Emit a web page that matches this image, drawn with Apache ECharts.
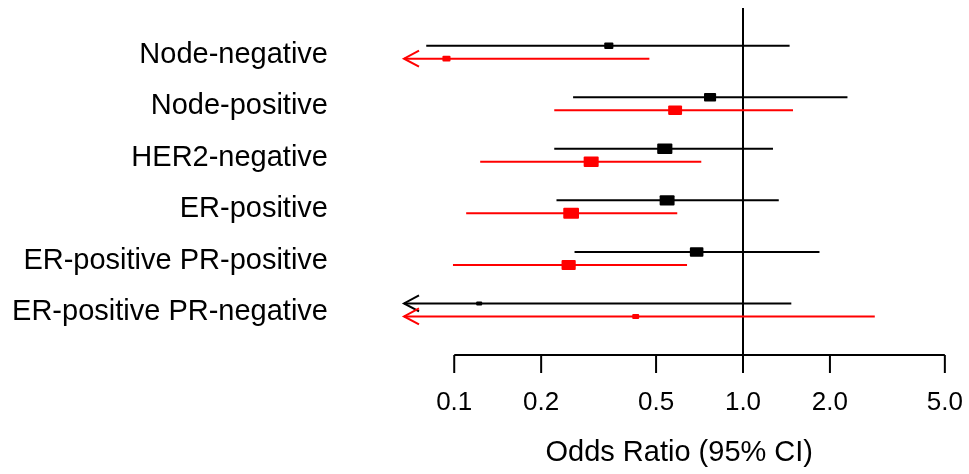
<!DOCTYPE html>
<html>
<head>
<meta charset="utf-8">
<title>Odds Ratio (95% CI)</title>
<script src="https://cdn.jsdelivr.net/npm/echarts@6/dist/echarts.min.js"></script>
<style>
html, body { margin: 0; padding: 0; background: #fff; }
#main { width: 969px; height: 474px; }
</style>
</head>
<body>
<div id="main"></div>
<script>
//亚组名称
var categories = ['Node-negative', 'Node-positive', 'HER2-negative', 'ER-positive',
    'ER-positive PR-positive', 'ER-positive PR-negative'];

//横轴刻度
var tickValues = [0.1, 0.2, 0.5, 1, 2, 5];
var tickLabels = ['0.1', '0.2', '0.5', '1.0', '2.0', '5.0'];

//黑色组: OR 及 95% CI
var blackOR = [0.343, 0.769, 0.536, 0.546, 0.691, 0.122];
var blackLow = [0.080, 0.258, 0.222, 0.226, 0.261, 0.010];
var blackHigh = [1.45, 2.30, 1.27, 1.33, 1.84, 1.47];

//红色组: OR 及 95% CI
var redOR = [0.094, 0.582, 0.298, 0.254, 0.249, 0.425];
var redLow = [0.018, 0.222, 0.123, 0.110, 0.099, 0.063];
var redHigh = [0.474, 1.49, 0.717, 0.592, 0.640, 2.86];

var xMin = 0.067, xMax = 5.4;
var yMin = 0.143, yMax = 6.873;
var font = "'Liberation Sans', Arial, sans-serif";

function rows(or, low, high) {
    var arr = [];
    for (var i = 0; i < or.length; i++) {
        arr.push([i + 1, or[i], low[i], high[i]]);
    }
    return arr;
}

//画一条置信区间: 线, 方块, 超出左边界时画箭头
function ciRender(color, dy) {
    return function (params, api) {
        var row = api.value(0);
        var or = api.value(1), lo = api.value(2), hi = api.value(3);
        var clipped = lo < xMin;
        var p0 = api.coord([clipped ? xMin : lo, row]);
        var p1 = api.coord([hi, row]);
        var pc = api.coord([or, row]);
        var y = p0[1] + dy;
        var w = 11.5 / Math.log10(hi / lo);
        if (w < 6) w = 6;
        var h = w * 0.7;
        var children = [{
            type: 'line',
            shape: {x1: p0[0], y1: y, x2: p1[0], y2: y},
            style: {stroke: color, lineWidth: 2}
        }, {
            type: 'rect',
            shape: {x: pc[0] - w / 2, y: y - h / 2, width: w, height: h, r: 1},
            style: {fill: color}
        }];
        if (clipped) {
            children.push({
                type: 'polyline',
                shape: {points: [[p0[0] + 15, y - 8], [p0[0], y], [p0[0] + 15, y + 8]]},
                style: {stroke: color, lineWidth: 2, fill: null}
            });
        }
        return {type: 'group', children: children};
    };
}

var myChart = echarts.init(document.getElementById('main'));

var option = {
    animation: false,
    backgroundColor: '#fff',
    grid: {left: 404, right: 14.5, top: 8, bottom: 119, outerBoundsMode: 'none'},
    xAxis: {
        type: 'log',
        min: xMin,
        max: xMax,
        name: 'Odds Ratio (95% CI)',
        nameLocation: 'middle',
        nameGap: 83,
        nameTextStyle: {color: '#000', fontSize: 29, fontFamily: font},
        axisLine: {show: false},
        axisTick: {show: false},
        axisLabel: {show: false},
        splitLine: {show: false}
    },
    yAxis: {
        type: 'value',
        inverse: true,
        min: yMin,
        max: yMax,
        axisLine: {show: false},
        axisTick: {show: false},
        axisLabel: {show: false},
        splitLine: {show: false}
    },
    series: [{
        //亚组标签
        type: 'custom',
        data: categories.map(function (c, i) { return [xMin, i + 1]; }),
        renderItem: function (params, api) {
            var p = api.coord([api.value(0), api.value(1)]);
            return {
                type: 'text',
                x: p[0] - 76,
                y: p[1] + 2.5,
                style: {
                    text: categories[params.dataIndex],
                    fill: '#000',
                    font: '29px ' + font,
                    align: 'right',
                    verticalAlign: 'middle'
                }
            };
        }
    }, {
        //参考线 OR = 1
        type: 'custom',
        data: [[1]],
        renderItem: function (params, api) {
            var a = api.coord([api.value(0), yMin]);
            var b = api.coord([api.value(0), yMax]);
            return {
                type: 'line',
                shape: {x1: a[0], y1: a[1], x2: b[0], y2: b[1]},
                style: {stroke: '#000', lineWidth: 2}
            };
        }
    }, {
        //横轴线
        type: 'custom',
        data: [[tickValues[0], tickValues[tickValues.length - 1]]],
        renderItem: function (params, api) {
            var a = api.coord([api.value(0), yMax]);
            var b = api.coord([api.value(1), yMax]);
            return {
                type: 'line',
                shape: {x1: a[0], y1: a[1], x2: b[0], y2: b[1]},
                style: {stroke: '#000', lineWidth: 2}
            };
        }
    }, {
        //刻度和刻度标签
        type: 'custom',
        data: tickValues.map(function (v, i) { return [v, i]; }),
        renderItem: function (params, api) {
            var p = api.coord([api.value(0), yMax]);
            return {
                type: 'group',
                children: [{
                    type: 'line',
                    shape: {x1: p[0], y1: p[1], x2: p[0], y2: p[1] + 18},
                    style: {stroke: '#000', lineWidth: 2}
                }, {
                    type: 'text',
                    x: p[0],
                    y: p[1] + 48,
                    style: {
                        text: tickLabels[api.value(1)],
                        fill: '#000',
                        font: '26px ' + font,
                        align: 'center',
                        verticalAlign: 'middle'
                    }
                }]
            };
        }
    }, {
        name: 'black',
        type: 'custom',
        data: rows(blackOR, blackLow, blackHigh),
        renderItem: ciRender('#000000', -6.5)
    }, {
        name: 'red',
        type: 'custom',
        data: rows(redOR, redLow, redHigh),
        renderItem: ciRender('#FF0000', 6.5)
    }]
};

myChart.setOption(option);
</script>
</body>
</html>
